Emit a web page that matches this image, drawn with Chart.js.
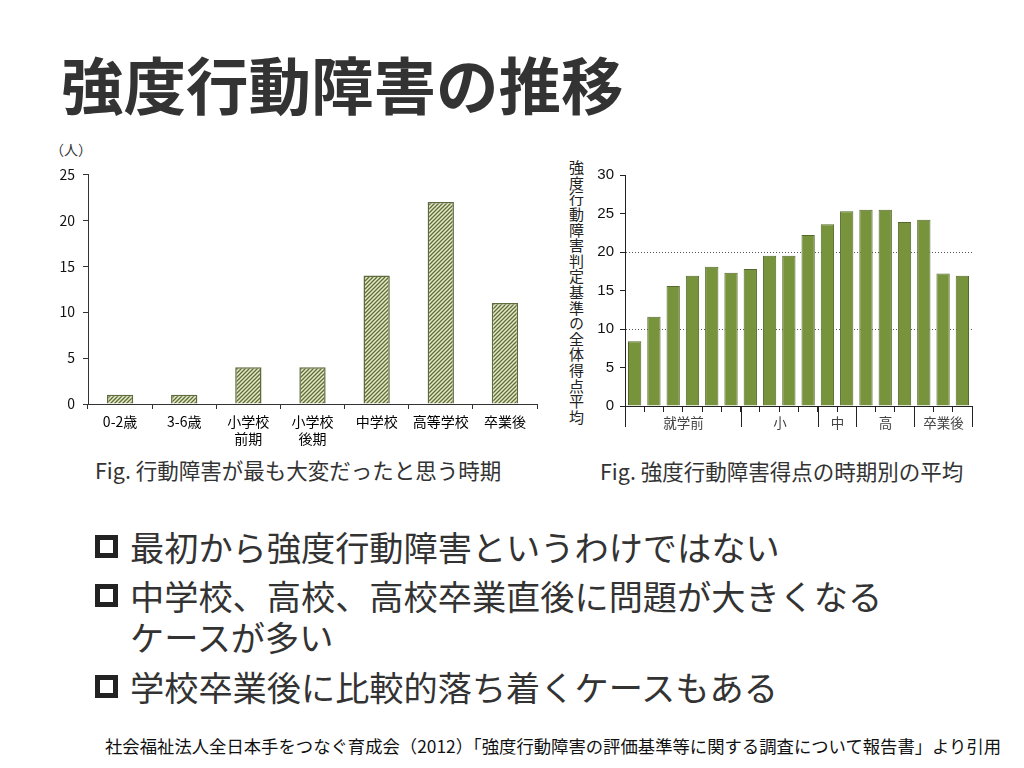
<!DOCTYPE html>
<html lang="ja">
<head>
<meta charset="utf-8">
<script src="https://cdn.jsdelivr.net/npm/chart.js@4.4.1/dist/chart.umd.min.js"></script>
<style>
  body { margin:0; width:1024px; height:768px; background:#fff; position:relative; overflow:hidden;
         font-family:"Noto Sans CJK JP","Noto Sans",sans-serif; color:#333; }
  .abs { position:absolute; white-space:nowrap; line-height:1; }
  #title { left:61px; top:52px; font-size:62.5px; font-weight:bold; color:#333; }
  #unit { left:50px; top:142px; font-size:14px; color:#333; }
  .cap { font-size:21.5px; color:#333; }
  #ytitle { left:569px; top:160px; font-size:15px; writing-mode:vertical-rl; letter-spacing:0.6px; color:#222; }
  .bul { font-size:34.2px; color:#333; }
  .box { position:absolute; left:95px; width:13px; height:13px; border:5px solid #222; }
  #cite { left:105px; top:737px; font-size:17.35px; color:#111; }
  canvas { position:absolute; }
</style>
</head>
<body>
<div id="title" class="abs">強度行動障害の推移</div>
<div id="unit" class="abs">（人）</div>
<canvas id="ageChart" width="510" height="296" style="left:40px;top:158px"></canvas>
<div id="ytitle" class="abs">強度行動障害判定基準の全体得点平均</div>
<canvas id="stageChart" width="390" height="276" style="left:590px;top:160px"></canvas>
<div class="abs cap" style="left:95px;top:459px">Fig. 行動障害が最も大変だったと思う時期</div>
<div class="abs cap" style="left:600px;top:460px">Fig. 強度行動障害得点の時期別の平均</div>

<div class="box" style="top:535px"></div>
<div class="abs bul" style="left:130px;top:529px">最初から強度行動障害というわけではない</div>
<div class="box" style="top:584px"></div>
<div class="abs bul" style="left:130px;top:578px">中学校、高校、高校卒業直後に問題が大きくなる</div>
<div class="abs bul" style="left:130px;top:619px">ケースが多い</div>
<div class="box" style="top:675px"></div>
<div class="abs bul" style="left:130px;top:669px">学校卒業後に比較的落ち着くケースもある</div>
<div id="cite" class="abs">社会福祉法人全日本手をつなぐ育成会（2012）「強度行動障害の評価基準等に関する調査について報告書」より引用</div>

<script>
// left chart: when was it hardest
const ageLabels = ['0-2歳', '3-6歳', ['小学校', '前期'], ['小学校', '後期'], '中学校', '高等学校', '卒業後'];
const hardestCounts = [1, 1, 4, 4, 14, 22, 11];
const countTicks = [0, 5, 10, 15, 20, 25];

// right chart: average score by period
const stageNames = ['就学前', '小', '中', '高', '卒業後'];
const stageSizes = [6, 4, 2, 3, 3];
const stageScores = [8.4, 11.6, 15.6, 16.9, 18.1, 17.3, 17.8, 19.5, 19.5, 22.2, 23.6, 25.3, 25.5, 25.5, 23.9, 24.2, 17.2, 16.9];
const scoreTicks = [0, 5, 10, 15, 20, 25, 30];
const scoreLines = [10, 20];

Chart.defaults.font.family = '"Noto Sans CJK JP", sans-serif';
Chart.defaults.color = '#111';

// one label per bar, grouped by period
const stageLabels = [];
stageNames.forEach((n, i) => {
  for (let k = 1; k <= stageSizes[i]; k++) stageLabels.push(n + k);
});

function hatch() {
  const c = document.createElement('canvas');
  c.width = 4; c.height = 4;
  const g = c.getContext('2d');
  g.fillStyle = '#e6ebc6';
  g.fillRect(0, 0, 4, 4);
  g.strokeStyle = '#5e6c3b';
  g.lineWidth = 1.3;
  g.beginPath();
  g.moveTo(0, 4); g.lineTo(4, 0);
  g.moveTo(-1, 1); g.lineTo(1, -1);
  g.moveTo(3, 5); g.lineTo(5, 3);
  g.stroke();
  return g.createPattern(c, 'repeat');
}

new Chart(document.getElementById('ageChart'), {
  type: 'bar',
  data: {
    labels: ageLabels,
    datasets: [{
      data: hardestCounts,
      backgroundColor: hatch(),
      borderColor: '#5e6b3c',
      borderWidth: 1.5,
      categoryPercentage: 1,
      barPercentage: 0.41
    }]
  },
  options: {
    responsive: false,
    animation: false,
    layout: { padding: { top: 10, right: 13 } },
    plugins: { legend: { display: false }, tooltip: { enabled: false } },
    scales: {
      x: {
        afterFit: s => { s.height = 50; },
        grid: { drawOnChartArea: false, tickLength: 5, color: '#333' },
        border: { color: '#333' },
        ticks: { autoSkip: false, maxRotation: 0, padding: 4, font: { size: 14 }, color: '#000' }
      },
      y: {
        min: 0, max: 25,
        afterFit: s => { s.width = 48; },
        afterBuildTicks: s => { s.ticks = countTicks.map(v => ({ value: v })); },
        grid: { drawOnChartArea: false, tickLength: 5, color: '#333' },
        border: { color: '#333' },
        ticks: { padding: 8, font: { size: 14 }, color: '#111' }
      }
    }
  }
});

// period brackets under the right chart
const stageAxis = {
  id: 'stageAxis',
  afterDraw(chart) {
    const { ctx, scales: { x } } = chart;
    const half = (x.getPixelForValue(1) - x.getPixelForValue(0)) / 2;
    const y0 = x.top;
    ctx.save();
    ctx.strokeStyle = '#222';
    ctx.lineWidth = 1;
    ctx.fillStyle = '#444';
    ctx.font = '13.5px "Noto Sans CJK JP"';
    ctx.textAlign = 'center';
    ctx.textBaseline = 'middle';
    let start = 0;
    stageNames.forEach((name, i) => {
      const end = start + stageSizes[i] - 1;
      const left = Math.round(x.getPixelForValue(start) - half) + 0.5;
      const right = Math.round(x.getPixelForValue(end) + half) + 0.5;
      ctx.beginPath();
      ctx.moveTo(left, y0); ctx.lineTo(left, y0 + 21);
      ctx.moveTo(right, y0); ctx.lineTo(right, y0 + 21);
      ctx.stroke();
      ctx.fillText(name, (left + right) / 2, y0 + 17);
      start = end + 1;
    });
    ctx.restore();
  }
};

new Chart(document.getElementById('stageChart'), {
  type: 'bar',
  data: {
    labels: stageLabels,
    datasets: [{
      data: stageScores,
      backgroundColor: '#77933c',
      borderColor: '#55692c',
      borderWidth: 1,
      categoryPercentage: 1,
      barPercentage: 0.69
    }]
  },
  options: {
    responsive: false,
    animation: false,
    layout: { padding: { top: 10, right: 8 } },
    plugins: { legend: { display: false }, tooltip: { enabled: false } },
    scales: {
      x: {
        afterFit: s => { s.height = 30; },
        grid: { drawOnChartArea: false, tickLength: 6, color: '#222' },
        border: { color: '#222' },
        ticks: { autoSkip: false, maxRotation: 0, callback: () => '' }
      },
      y: {
        min: 0, max: 30,
        z: 1,
        afterFit: s => { s.width = 35; },
        afterBuildTicks: s => { s.ticks = scoreTicks.map(v => ({ value: v })); },
        grid: {
          tickLength: 5,
          tickColor: '#222',
          tickBorderDash: [],
          color: c => scoreLines.includes(c.tick && c.tick.value) ? '#555' : 'rgba(0,0,0,0)'
        },
        border: { color: '#222', dash: [1, 2] },
        ticks: { padding: 6, font: { family: '"Liberation Sans", Arial, sans-serif', size: 15 }, color: '#111' }
      }
    }
  },
  plugins: [stageAxis]
});
</script>
</body>
</html>
